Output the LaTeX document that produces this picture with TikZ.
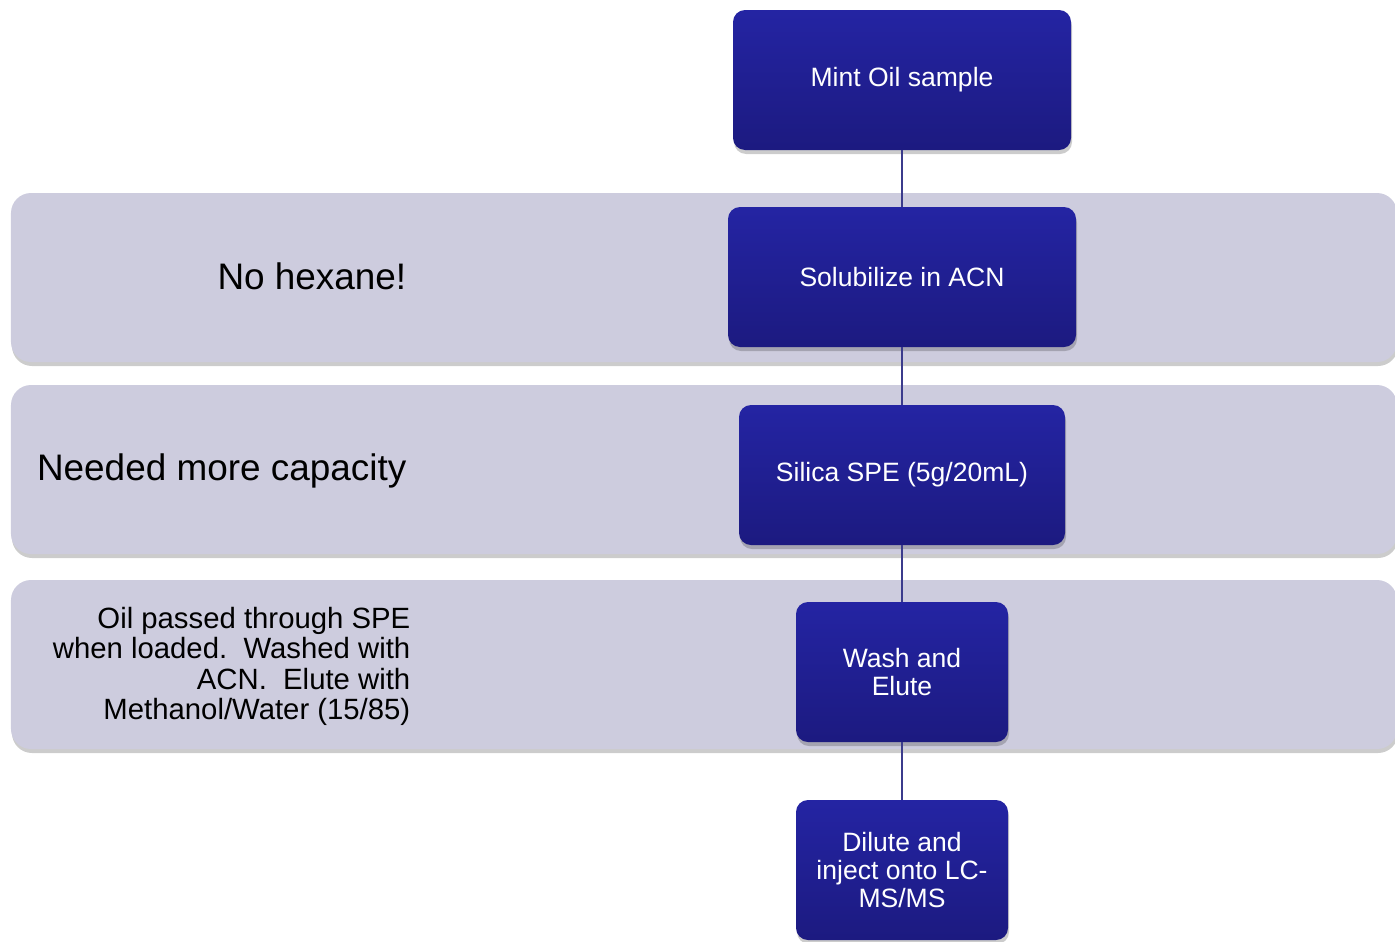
\documentclass[tikz,border=0pt]{standalone}
\usepackage{fontspec}
\setmainfont{Liberation Sans}
\usetikzlibrary{shadows}
\definecolor{boxtop}{HTML}{2424A3}
\definecolor{boxbot}{HTML}{1C1A80}
\definecolor{bandfill}{HTML}{CDCCDE}
\definecolor{linkcol}{HTML}{3B3B8C}
\tikzset{
  stepbox/.style={rounded corners=0.12cm, top color=boxtop, bottom color=boxbot,
    text=white, align=center, inner sep=0pt, outer sep=0pt, minimum height=1.4cm,
    font=\fontsize{7.55}{7.97}\selectfont,
    drop shadow={shadow xshift=0.01cm, shadow yshift=-0.04cm, fill=black, opacity=0.2}},
  band/.style={rounded corners=0.2cm, fill=bandfill, inner sep=0pt, outer sep=0pt,
    minimum width=13.86cm, minimum height=1.69cm,
    drop shadow={shadow xshift=0.01cm, shadow yshift=-0.04cm, fill=black, opacity=0.2}},
  note/.style={anchor=east, align=right, inner sep=0pt},
  link/.style={draw=linkcol, line width=0.45pt}
}
\begin{document}
\begin{tikzpicture}
			\useasboundingbox (0,0) rectangle (13.95,-9.41);
			
			% bands behind the steps
			\node[band] (band1)at(7.04,-2.775) {};
			\node[band] (band2)at(7.04,-4.695) {};
			\node[band] (band3)at(7.04,-6.645) {};
			
			\node[note,font=\fontsize{10.5}{12}\selectfont] (note1)at(4.07,-2.765) {No hexane!};
			\node[note,font=\fontsize{10.5}{12}\selectfont] (note2)at(4.07,-4.71) {Needed more capacity};
			\node[note,font=\fontsize{8.34}{8.68}\selectfont] (note3)at(4.11,-6.665) {Oil passed through SPE\\when loaded.\ \ Washed with\\ACN.\ \ Elute with\\Methanol/Water (15/85)};
			
			% steps
			\node[stepbox,minimum width=3.38cm] (mint)at(9.02,-0.80) {Mint Oil sample};
			\node[stepbox,minimum width=3.48cm] (solub)at(9.02,-2.77) {Solubilize in ACN};
			\node[stepbox,minimum width=3.26cm] (silica)at(9.02,-4.75) {Silica SPE (5g/20mL)};
			\node[stepbox,minimum width=2.12cm] (wash)at(9.02,-6.72) {Wash and\\Elute};
			\node[stepbox,minimum width=2.12cm] (dilute)at(9.02,-8.70) {Dilute and\\inject onto LC-\\MS/MS};
			
			\draw[link] (mint) -- (solub);
			\draw[link] (solub) -- (silica);
			\draw[link] (silica) -- (wash);
			\draw[link] (wash) -- (dilute);
		\end{tikzpicture}
\end{document}
